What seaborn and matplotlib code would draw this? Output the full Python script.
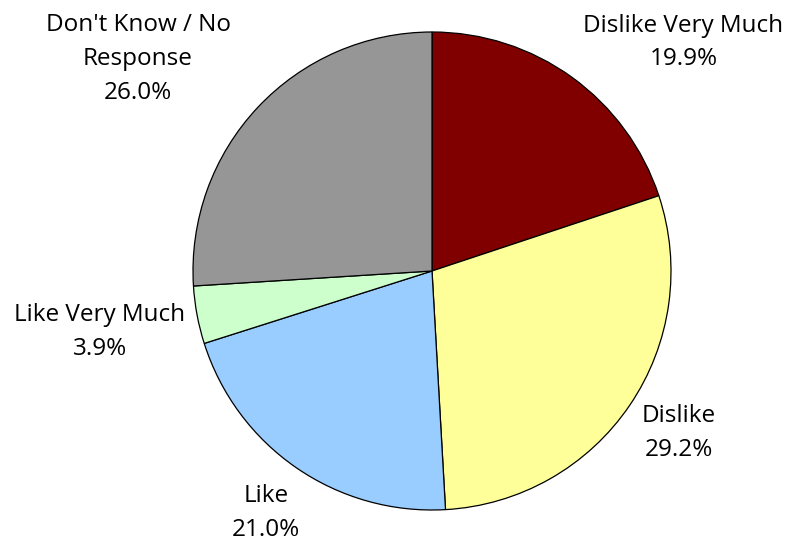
import matplotlib
matplotlib.use("Agg")
import matplotlib.pyplot as plt
import seaborn as sns

categories = ["Dislike Very Much", "Dislike", "Like", "Like Very Much", "Don't Know / No\nResponse"]
shares = [19.9, 29.2, 21.0, 3.9, 26.0]
colors = ["#800000", "#FFFF99", "#99CCFF", "#CCFFCC", "#969696"]
# label anchor spots, in pie-radius units
label_xy = [(1.052, 0.956), (1.033, -0.678), (-0.695, -1.013), (-1.389, -0.255), (-1.23, 0.887)]

sns.set_theme(style="white")
plt.rcParams["font.family"] = ["Open Sans", "DejaVu Sans"]

fig = plt.figure(figsize=(7.91, 5.46), dpi=100)
ax = fig.add_axes([0, 0, 1, 1])
ax.pie(shares, colors=colors, startangle=90, counterclock=False, radius=1.0,
       wedgeprops={"edgecolor": "black", "linewidth": 0.9})
for name, val, (x, y) in zip(categories, shares, label_xy):
    ax.text(x, y, f"{name}\n{val:.1f}%", ha="center", va="center",
            fontsize=17.5, color="black", linespacing=1.55)
ax.set_xlim(-432 / 239, (791 - 432) / 239)
ax.set_ylim((271 - 546) / 239, 271 / 239)
ax.set_aspect("equal")
ax.axis("off")
fig.savefig("out.png", dpi=100, facecolor="white")
